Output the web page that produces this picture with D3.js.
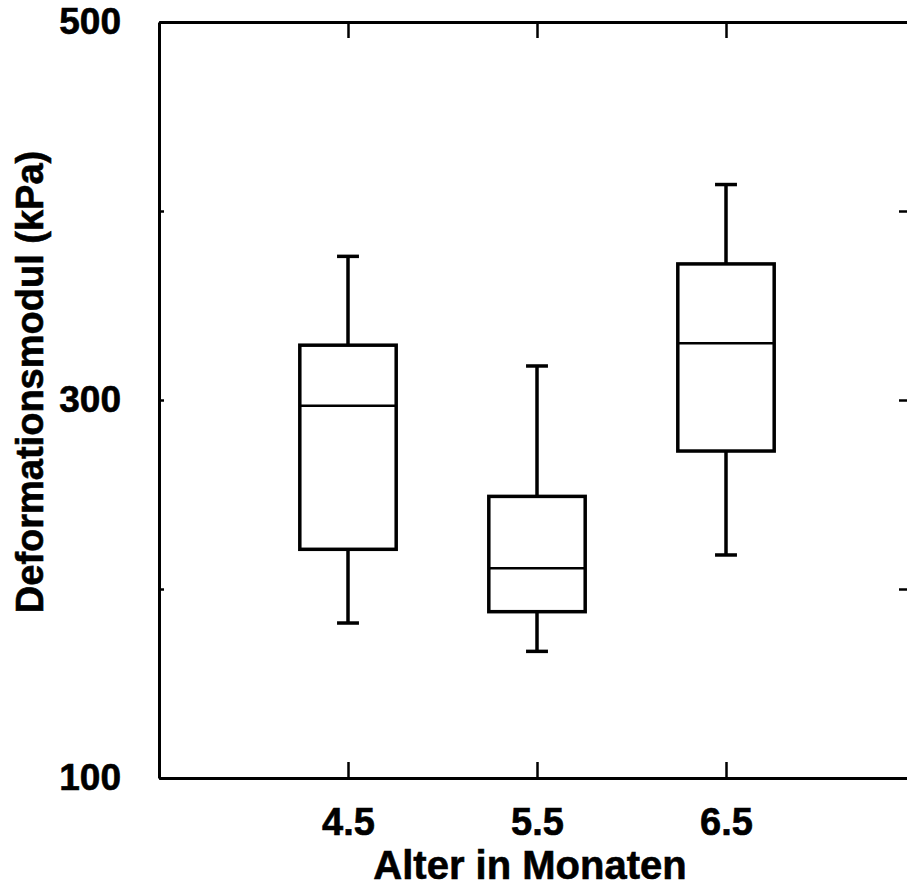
<!DOCTYPE html>
<html>
<head>
<meta charset="utf-8">
<script src="https://cdn.jsdelivr.net/npm/d3@7"></script>
<style>
  body { margin: 0; background: #fff; }
  svg { display: block; }
  text { font-family: "Liberation Sans", Arial, sans-serif; font-weight: bold; fill: #000; }
</style>
</head>
<body>
<svg id="chart" width="907" height="888"></svg>
<script>
// ages (months) and box statistics
var ages = [4.5, 5.5, 6.5];
var whiskerLow = [182, 167, 218];
var q1 = [221, 188, 273];
var median = [297, 211, 330];
var q3 = [329, 249, 372];
var whiskerHigh = [376, 318, 414];

var yTicks = [100, 200, 300, 400, 500];
var yLabels = [100, 300, 500];

var svg = d3.select("#chart");
var mLeft = 159, mRight = 915, mTop = 22, mBottom = 778;

var x = d3.scaleLinear().domain([3.5, 7.5]).range([mLeft, mRight]);
var y = d3.scaleLinear().domain([100, 500]).range([mBottom, mTop]);

var boxW = 0.51, capW = 0.116;

// axes / frame
svg.append("g").attr("class", "yl").attr("transform", "translate(" + mLeft + ",0)")
  .call(d3.axisLeft(y).tickValues(yTicks).tickSize(-5).tickSizeOuter(0).tickPadding(38)
    .tickFormat(function(d) { return yLabels.indexOf(d) >= 0 ? d : ""; }));
svg.append("g").attr("transform", "translate(" + mRight + ",0)")
  .call(d3.axisRight(y).tickValues([200, 300, 400]).tickSize(-16).tickSizeOuter(0).tickFormat(""));
svg.append("g").attr("transform", "translate(0," + mTop + ")")
  .call(d3.axisTop(x).tickValues(ages).tickSize(-16).tickSizeOuter(0).tickFormat(""));
svg.append("g").attr("class", "xb").attr("transform", "translate(0," + mBottom + ")")
  .call(d3.axisBottom(x).tickValues(ages).tickSize(-16).tickSizeOuter(0).tickPadding(30)
    .tickFormat(d3.format(".1f")));

svg.selectAll(".domain").attr("stroke", "#000").attr("stroke-width", 3);
svg.selectAll(".tick line").attr("stroke", "#000").attr("stroke-width", 2.5);
svg.selectAll(".tick text")
  .style("font-family", "'Liberation Sans', Arial, sans-serif").style("font-weight", "bold")
  .attr("stroke", "#000").attr("stroke-width", 0.6);
svg.selectAll(".yl .tick text").style("font-size", "37px");
svg.selectAll(".xb .tick text").style("font-size", "38px");

// boxes
var data = ages.map(function(a, i) {
  return { age: a, lo: whiskerLow[i], q1: q1[i], med: median[i], q3: q3[i], hi: whiskerHigh[i] };
});

var box = svg.append("g").selectAll("g").data(data).enter().append("g")
  .attr("stroke", "#000").attr("stroke-width", 3.5).attr("fill", "none");

// whiskers
box.append("line")
  .attr("x1", function(d) { return x(d.age); }).attr("x2", function(d) { return x(d.age); })
  .attr("y1", function(d) { return y(d.q3); }).attr("y2", function(d) { return y(d.hi); });
box.append("line")
  .attr("x1", function(d) { return x(d.age); }).attr("x2", function(d) { return x(d.age); })
  .attr("y1", function(d) { return y(d.q1); }).attr("y2", function(d) { return y(d.lo); });
// caps
box.append("line")
  .attr("x1", function(d) { return x(d.age - capW / 2); }).attr("x2", function(d) { return x(d.age + capW / 2); })
  .attr("y1", function(d) { return y(d.hi); }).attr("y2", function(d) { return y(d.hi); });
box.append("line")
  .attr("x1", function(d) { return x(d.age - capW / 2); }).attr("x2", function(d) { return x(d.age + capW / 2); })
  .attr("y1", function(d) { return y(d.lo); }).attr("y2", function(d) { return y(d.lo); });
// box
box.append("rect")
  .attr("x", function(d) { return x(d.age - boxW / 2); })
  .attr("width", function(d) { return x(d.age + boxW / 2) - x(d.age - boxW / 2); })
  .attr("y", function(d) { return y(d.q3); })
  .attr("height", function(d) { return y(d.q1) - y(d.q3); })
  .attr("fill", "#fff");
// median
box.append("line")
  .attr("x1", function(d) { return x(d.age - boxW / 2); }).attr("x2", function(d) { return x(d.age + boxW / 2); })
  .attr("y1", function(d) { return y(d.med); }).attr("y2", function(d) { return y(d.med); })
  .attr("stroke-width", 2.5);

// axis titles
svg.append("text")
  .attr("x", 530).attr("y", 879)
  .attr("text-anchor", "middle")
  .attr("stroke", "#000").attr("stroke-width", 0.6)
  .style("font-size", "40px")
  .text("Alter in Monaten");

svg.append("text")
  .attr("transform", "translate(43,382) rotate(-90)")
  .attr("text-anchor", "middle")
  .attr("stroke", "#000").attr("stroke-width", 0.6)
  .style("font-size", "38px")
  .text("Deformationsmodul (kPa)");
</script>
</body>
</html>
